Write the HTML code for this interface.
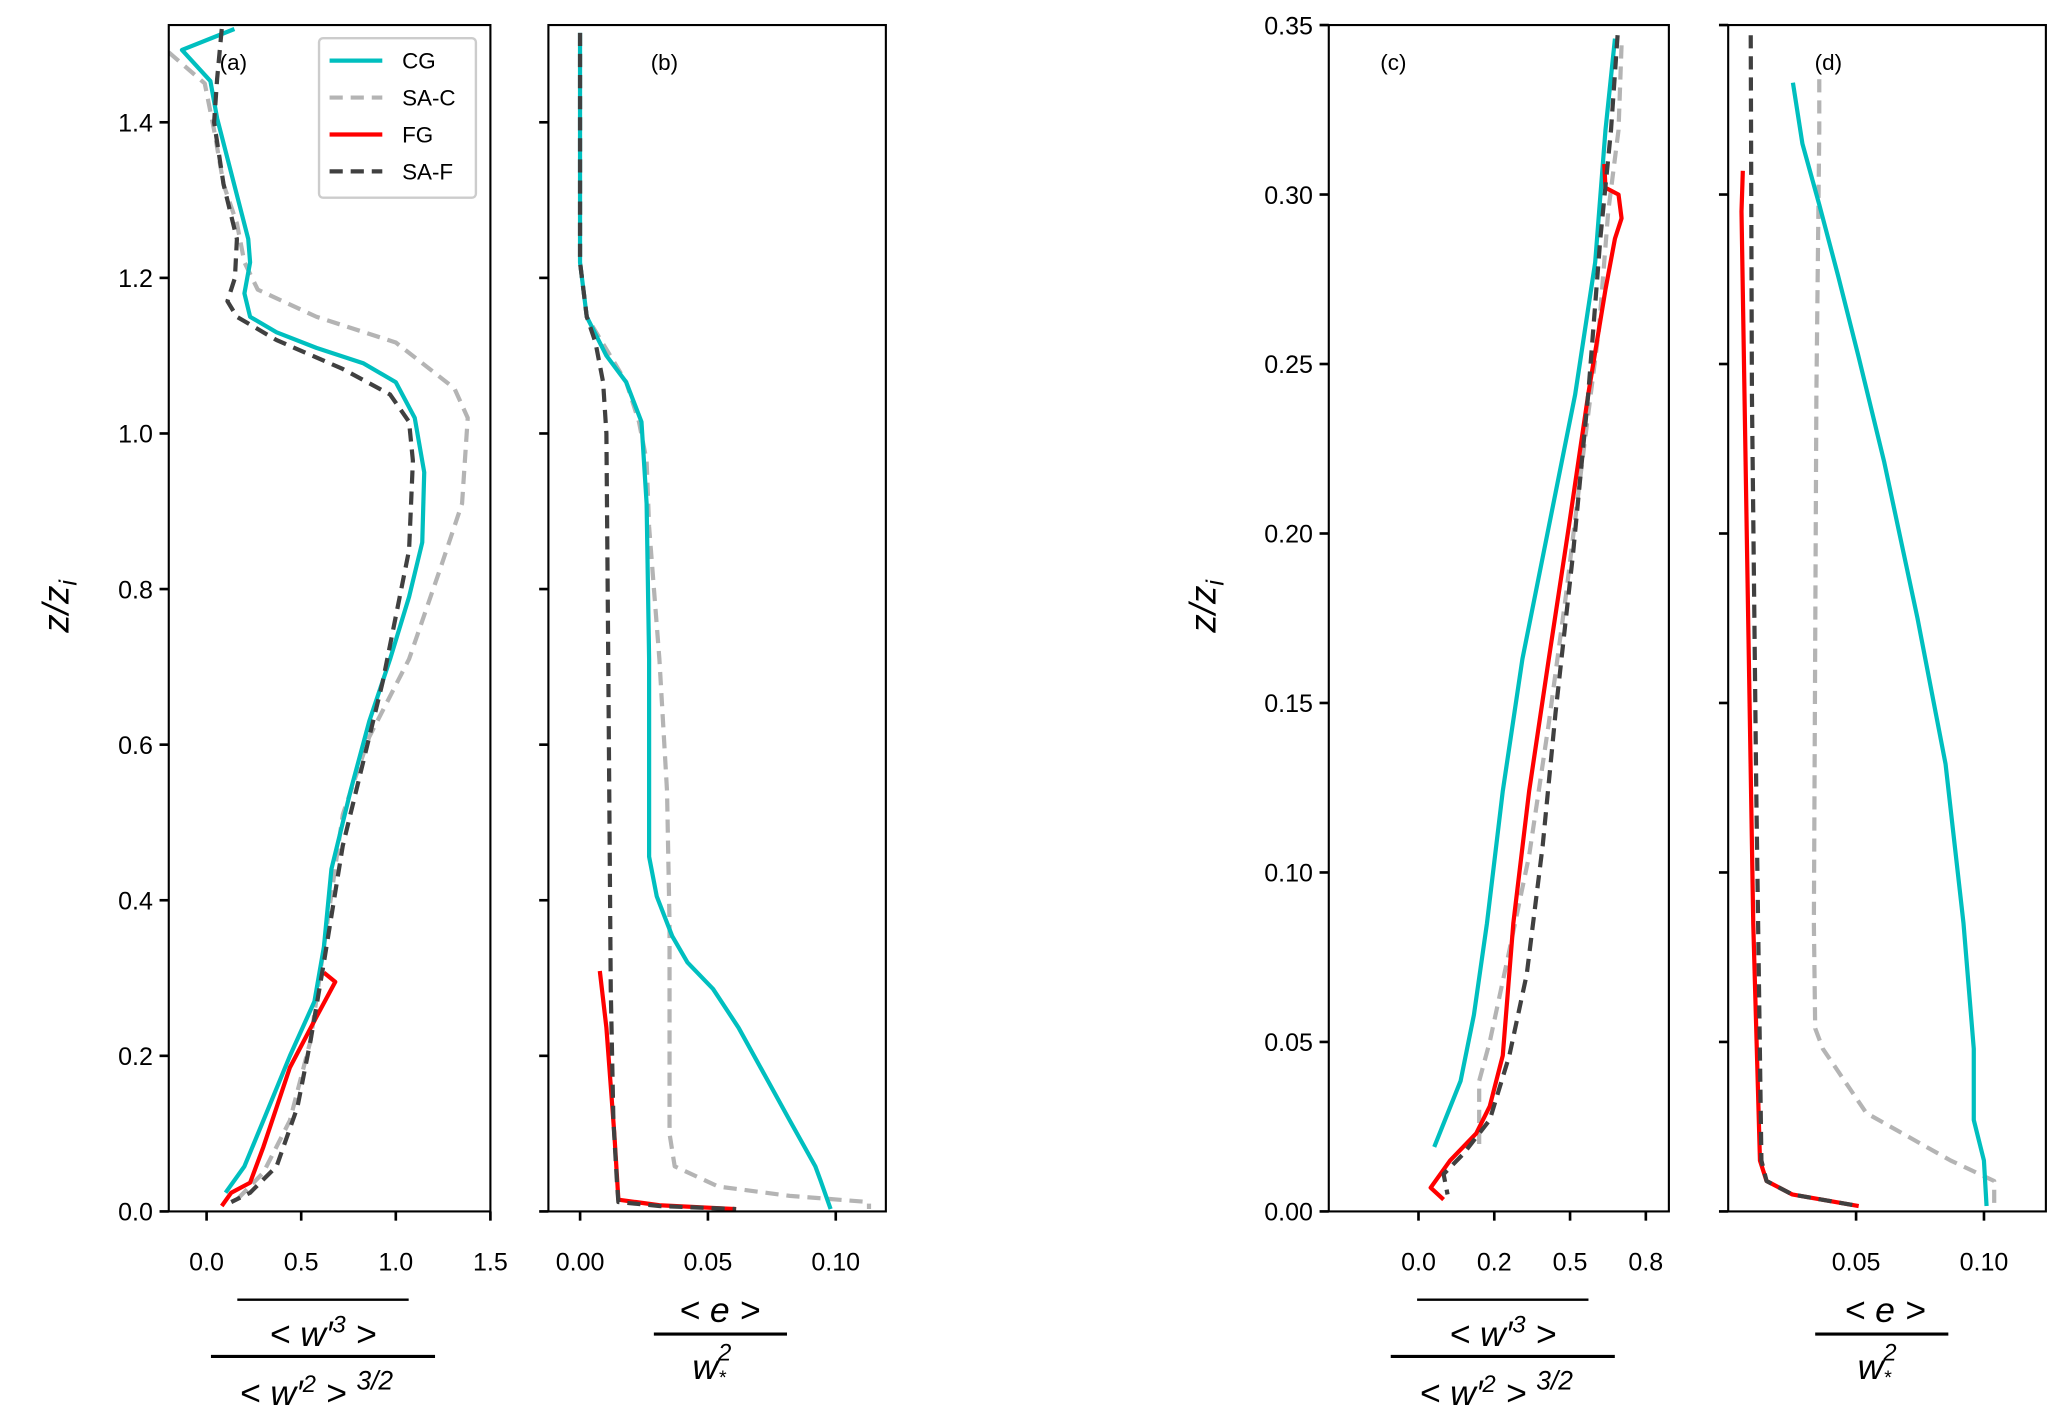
<!DOCTYPE html>
<html><head><meta charset="utf-8"><style>
html,body{margin:0;padding:0;background:#fff;}
svg{display:block;font-family:"Liberation Sans",sans-serif;}
</style></head><body>
<svg id="fig" width="2067" height="1423" viewBox="0 0 1568 1079.5" xmlns="http://www.w3.org/2000/svg">
<rect width="1568" height="1080" fill="#fff"/>
<g><text transform="translate(52,460) rotate(-90)" font-size="28" font-style="italic" text-anchor="middle">z/z<tspan font-size="19" dy="6">i</tspan></text></g>
<g><text transform="translate(922,460) rotate(-90)" font-size="28" font-style="italic" text-anchor="middle">z/z<tspan font-size="19" dy="6">i</tspan></text></g>

<g font-size="27" font-style="italic">
<line x1="180" y1="986" x2="310" y2="986" stroke="#000" stroke-width="1.8"/>
<text x="245" y="1021" text-anchor="middle">&lt;  w′<tspan font-size="18" dy="-10">3</tspan><tspan dy="10"> &gt;</tspan></text>
<line x1="160" y1="1029" x2="330" y2="1029" stroke="#000" stroke-width="2.4"/>
<text x="240" y="1066" text-anchor="middle">&lt;  w′<tspan font-size="18" dy="-10">2</tspan><tspan dy="10"> &gt; </tspan><tspan font-size="20" dy="-12"> 3/2</tspan></text>
</g>
<g font-size="27" font-style="italic">
<text x="546" y="1003" text-anchor="middle">&lt; e &gt;</text>
<line x1="496" y1="1012" x2="597" y2="1012" stroke="#000" stroke-width="2.4"/>
<text x="540" y="1046" text-anchor="middle">w<tspan font-size="18" dy="-14">2</tspan><tspan font-size="15" dx="-10" dy="18">*</tspan></text>
</g>
<g font-size="27" font-style="italic">
<line x1="1075" y1="986" x2="1205" y2="986" stroke="#000" stroke-width="1.8"/>
<text x="1140" y="1021" text-anchor="middle">&lt;  w′<tspan font-size="18" dy="-10">3</tspan><tspan dy="10"> &gt;</tspan></text>
<line x1="1055" y1="1029" x2="1225" y2="1029" stroke="#000" stroke-width="2.4"/>
<text x="1135" y="1066" text-anchor="middle">&lt;  w′<tspan font-size="18" dy="-10">2</tspan><tspan dy="10"> &gt; </tspan><tspan font-size="20" dy="-12"> 3/2</tspan></text>
</g>
<g font-size="27" font-style="italic">
<text x="1430" y="1003" text-anchor="middle">&lt; e &gt;</text>
<line x1="1377" y1="1012" x2="1478" y2="1012" stroke="#000" stroke-width="2.4"/>
<text x="1424" y="1046" text-anchor="middle">w<tspan font-size="18" dy="-14">2</tspan><tspan font-size="15" dx="-10" dy="18">*</tspan></text>
</g>
</svg>
<script>
// ---- data ----
const aCG_x=[0.147,-0.13,0.02,0.056,0.22,0.23,0.2,0.23,0.37,0.58,0.83,1.0,1.1,1.15,1.14,1.07,0.97,0.86,0.76,0.66,0.62,0.57,0.44,0.30,0.2,0.1];
const aCG_y=[1.52,1.493,1.453,1.405,1.25,1.22,1.18,1.15,1.13,1.11,1.09,1.066,1.02,0.95,0.86,0.79,0.71,0.63,0.54,0.44,0.34,0.27,0.20,0.117,0.058,0.024];
const aSAC_x=[-0.2,-0.01,0.04,0.09,0.16,0.2,0.27,0.58,1.0,1.31,1.38,1.35,1.24,1.07,0.86,0.72,0.62,0.55,0.44,0.3,0.16];
const aSAC_y=[1.49,1.45,1.39,1.32,1.27,1.22,1.185,1.15,1.117,1.058,1.02,0.91,0.83,0.71,0.61,0.51,0.34,0.22,0.117,0.05,0.015];
const aSAF_x=[0.08,0.056,0.04,0.09,0.16,0.15,0.11,0.16,0.37,0.72,0.97,1.07,1.09,1.07,0.93,0.72,0.62,0.55,0.48,0.37,0.23,0.13];
const aSAF_y=[1.52,1.456,1.40,1.32,1.25,1.2,1.17,1.15,1.12,1.083,1.05,1.015,0.965,0.85,0.68,0.47,0.32,0.22,0.134,0.058,0.024,0.012];
const aFG_x=[0.62,0.68,0.58,0.44,0.30,0.23,0.13,0.08];
const aFG_y=[0.307,0.295,0.25,0.185,0.083,0.037,0.024,0.007];

const bCG_x=[0,0,0.0026,0.0103,0.018,0.024,0.026,0.027,0.027,0.030,0.036,0.042,0.052,0.062,0.082,0.092,0.094,0.098];
const bCG_y=[1.515,1.22,1.15,1.1,1.066,1.015,0.91,0.71,0.456,0.405,0.354,0.32,0.286,0.236,0.117,0.058,0.04,0.003];
const bSAC_x=[0,0,0.0026,0.018,0.023,0.026,0.027,0.031,0.034,0.035,0.035,0.037,0.054,0.082,0.113,0.113];
const bSAC_y=[1.515,1.22,1.15,1.066,1.015,0.965,0.88,0.71,0.54,0.37,0.1,0.058,0.032,0.02,0.012,0.003];
const bSAF_x=[0,0,0.0026,0.006,0.009,0.0103,0.011,0.012,0.013,0.0145,0.015,0.031,0.061];
const bSAF_y=[1.515,1.22,1.15,1.117,1.066,1.0,0.71,0.286,0.117,0.032,0.012,0.007,0.003];
const bFG_x=[0.0077,0.0103,0.0134,0.015,0.031,0.061];
const bFG_y=[0.309,0.236,0.1,0.015,0.008,0.003];

const cCG_x=[0.648,0.617,0.583,0.517,0.43,0.343,0.278,0.226,0.183,0.139,0.052];
const cCG_y=[0.346,0.319,0.28,0.241,0.202,0.163,0.124,0.085,0.058,0.0385,0.019];
const cSAC_x=[0.67,0.66,0.626,0.595,0.54,0.487,0.43,0.365,0.3,0.235,0.2,0.2];
const cSAC_y=[0.344,0.319,0.295,0.26,0.221,0.182,0.144,0.105,0.077,0.05,0.0385,0.019];
const cSAF_x=[0.657,0.635,0.6,0.56,0.51,0.452,0.41,0.357,0.3,0.235,0.148,0.083,0.096];
const cSAF_y=[0.347,0.319,0.287,0.241,0.194,0.147,0.108,0.07,0.046,0.027,0.017,0.011,0.005];
const cFG_x=[0.613,0.617,0.66,0.67,0.648,0.617,0.56,0.496,0.43,0.365,0.313,0.278,0.235,0.19,0.104,0.04,0.083];
const cFG_y=[0.309,0.302,0.3,0.293,0.287,0.272,0.241,0.202,0.163,0.124,0.085,0.046,0.031,0.023,0.015,0.007,0.0035];

const dCG_x=[0.0253,0.029,0.0356,0.043,0.051,0.061,0.074,0.085,0.092,0.096,0.096,0.1,0.101];
const dCG_y=[0.333,0.315,0.297,0.276,0.252,0.221,0.175,0.132,0.085,0.048,0.027,0.015,0.0016];
const dSAC_x=[0.0356,0.0356,0.0345,0.0335,0.034,0.037,0.054,0.087,0.104,0.104];
const dSAC_y=[0.334,0.319,0.241,0.085,0.054,0.048,0.029,0.015,0.009,0.001];
const dSAF_x=[0.0088,0.0093,0.011,0.013,0.015,0.025,0.051];
const dSAF_y=[0.347,0.241,0.124,0.015,0.009,0.005,0.0016];
const dFG_x=[0.0057,0.0052,0.0072,0.0098,0.0124,0.015,0.025,0.051];
const dFG_y=[0.307,0.295,0.202,0.085,0.015,0.009,0.005,0.0016];

const aXticks=[0,0.5,1.0,1.5], aXlabels=["0.0","0.5","1.0","1.5"];
const abYticks=[0,0.2,0.4,0.6,0.8,1.0,1.2,1.4], abYlabels=["0.0","0.2","0.4","0.6","0.8","1.0","1.2","1.4"];
const bXticks=[0,0.05,0.10], bXlabels=["0.00","0.05","0.10"];
const cXticks=[0,0.25,0.5,0.75], cXlabels=["0.0","0.2","0.5","0.8"];
const cdYticks=[0,0.05,0.1,0.15,0.2,0.25,0.3,0.35], cdYlabels=["0.00","0.05","0.10","0.15","0.20","0.25","0.30","0.35"];
const dXticks=[0.05,0.10], dXlabels=["0.05","0.10"];

const NS="http://www.w3.org/2000/svg";
const svg=document.getElementById('fig');
function mk(tag,attrs,parent){const e=document.createElementNS(NS,tag);for(const k in attrs)e.setAttribute(k,attrs[k]);(parent||svg).appendChild(e);return e;}
const styles={CG:{stroke:"#00bfbf",dash:""},SAC:{stroke:"#b4b4b4",dash:"10,6"},FG:{stroke:"#ff0000",dash:""},SAF:{stroke:"#404040",dash:"10,6"}};

function panel(id,L,R,T,B,xmin,xmax,ymin,ymax,xt,xl,yt,yl,showY,series,label,lx){
  const g=mk('g',{});
  
  
  const sx=v=>L+(v-xmin)/(xmax-xmin)*(R-L);
  const sy=v=>B-(v-ymin)/(ymax-ymin)*(B-T);
  const cp=mk('clipPath',{id:'clip'+id},g);mk('rect',{x:L,y:T,width:R-L,height:B-T},cp);
  const lg=mk('g',{'clip-path':'url(#clip'+id+')'},g);
  series.forEach(s=>{
    const st=styles[s.k];
    const d=s.x.map((v,i)=>(i?'L':'M')+sx(v).toFixed(1)+' '+sy(s.y[i]).toFixed(1)).join(' ');
    const p=mk('path',{d:d,fill:'none',stroke:st.stroke,'stroke-width':3.2,'stroke-dasharray':st.dash,'stroke-linejoin':'round'},lg);
    
    
  });
  const fr=mk('rect',{x:L,y:T,width:R-L,height:B-T,fill:'none',stroke:'#000','stroke-width':1.6},g);
  
  
  xt.forEach((v,i)=>{const x=sx(v);mk('line',{x1:x,y1:B,x2:x,y2:B+7,stroke:'#000','stroke-width':2},g);
    const t=mk('text',{x:x,y:B+45,'font-size':19,'text-anchor':'middle'},g);t.textContent=xl[i];
    
    });
  yt.forEach((v,i)=>{const y=sy(v);mk('line',{x1:L-7,y1:y,x2:L,y2:y,stroke:'#000','stroke-width':2},g);
    if(showY){const t=mk('text',{x:L-12,y:y+7,'font-size':19,'text-anchor':'end'},g);t.textContent=yl[i];
    
    }});
  const pl=mk('text',{x:lx,y:53,'font-size':17,'text-anchor':'middle'},g);pl.textContent=label;
  
  
}
panel('a',128,372,19,919,-0.2,1.5,0,1.525,aXticks,aXlabels,abYticks,abYlabels,true,
 [{k:'SAC',x:aSAC_x,y:aSAC_y},{k:'CG',x:aCG_x,y:aCG_y},{k:'FG',x:aFG_x,y:aFG_y},{k:'SAF',x:aSAF_x,y:aSAF_y}],'(a)',177);
panel('b',416,672,19,919,-0.0124,0.1196,0,1.525,bXticks,bXlabels,abYticks,abYlabels,false,
 [{k:'SAC',x:bSAC_x,y:bSAC_y},{k:'CG',x:bCG_x,y:bCG_y},{k:'FG',x:bFG_x,y:bFG_y},{k:'SAF',x:bSAF_x,y:bSAF_y}],'(b)',504);
panel('c',1008,1266,19,919,-0.296,0.826,0,0.35,cXticks,cXlabels,cdYticks,cdYlabels,true,
 [{k:'SAC',x:cSAC_x,y:cSAC_y},{k:'CG',x:cCG_x,y:cCG_y},{k:'FG',x:cFG_x,y:cFG_y},{k:'SAF',x:cSAF_x,y:cSAF_y}],'(c)',1057);
panel('d',1311,1552,19,919,0,0.1242,0,0.35,dXticks,dXlabels,cdYticks,cdYlabels,false,
 [{k:'SAC',x:dSAC_x,y:dSAC_y},{k:'CG',x:dCG_x,y:dCG_y},{k:'FG',x:dFG_x,y:dFG_y},{k:'SAF',x:dSAF_x,y:dSAF_y}],'(d)',1387);

// legend
const leg=mk('g',{});


mk('rect',{x:242,y:29,width:119,height:121,rx:3,fill:'#fff',stroke:'#ccc','stroke-width':1.8},leg);
const legNames=["CG","SA-C","FG","SA-F"], legKeys=["CG","SAC","FG","SAF"];
legNames.forEach((n,i)=>{const y=46+i*28;const st=styles[legKeys[i]];
  const e=mk('g',{},leg);
  
  
  mk('line',{x1:250,y1:y,x2:290,y2:y,stroke:st.stroke,'stroke-width':3.2,'stroke-dasharray':st.dash},e);
  const t=mk('text',{x:305,y:y+6,'font-size':17},e);t.textContent=n;});
</script>
</body></html>
